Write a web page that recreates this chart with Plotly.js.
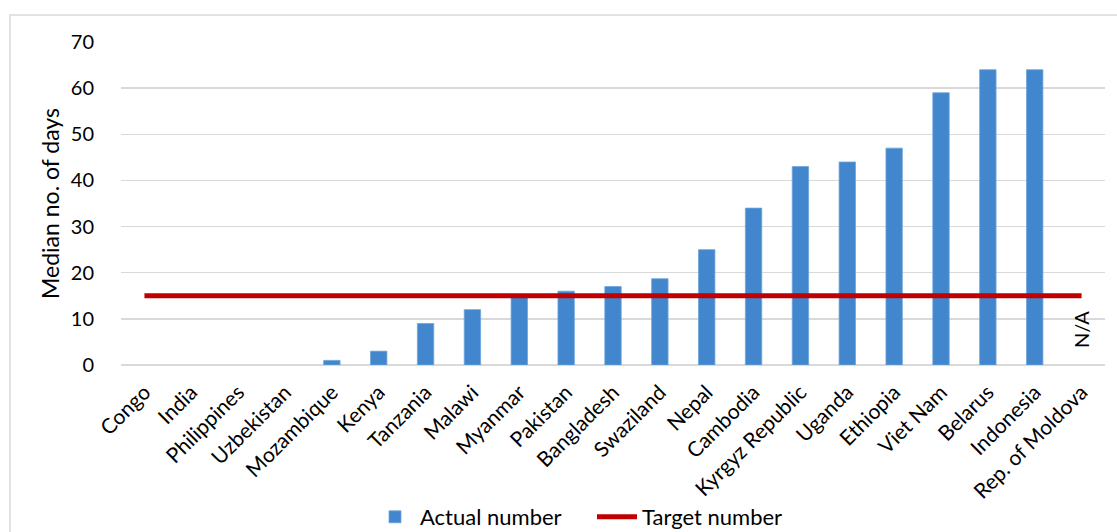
<!DOCTYPE html>
<html>
<head>
<meta charset="utf-8">
<script src="https://cdn.plot.ly/plotly-3.0.1.min.js"></script>
<style>html,body{margin:0;padding:0;background:#fff;}#chart{width:1117px;height:532px;}</style>
</head>
<body>
<div id="chart"></div>
<script>
const countries = ["Congo","India","Philippines","Uzbekistan","Mozambique","Kenya","Tanzania","Malawi","Myanmar","Pakistan","Bangladesh","Swaziland","Nepal","Cambodia","Kyrgyz Republic","Uganda","Ethiopia","Viet Nam","Belarus","Indonesia","Rep. of Moldova"];
const actualNumber = [null,null,null,null,1,3,9,12,15,16,17,18.7,25,34,43,44,47,59,64,64,null];
const targetNumber = [15,15,15,15,15,15,15,15,15,15,15,15,15,15,15,15,15,15,15,15,15];
const yTicks = [0,10,20,30,40,50,60,70];
const naLabel = {country: "Rep. of Moldova", text: "N/A", y: 7.7};

const W = 1117, H = 532;
const mL = 121, mR = 12, mT = 42, mB = 166.5;
const pw = W - mL - mR, ph = H - mT - mB;
const px = v => (v - mL) / pw;
const py = v => (H - mB - v) / ph;

const font = "Lato, 'Open Sans', sans-serif";

const traces = [
  {type: "bar", name: "Actual number", x: countries, y: actualNumber,
   marker: {color: "#4286cd", line: {color: "#6fa4dc", width: 0.8}}},
  {type: "scatter", mode: "lines", name: "Target number", x: countries, y: targetNumber,
   line: {color: "#c00000", width: 5, shape: "linear"}}
];

const layout = {
  width: W, height: H,
  margin: {l: mL, r: mR, t: mT, b: mB, pad: 0, autoexpand: false},
  paper_bgcolor: "#ffffff", plot_bgcolor: "#ffffff",
  font: {family: font, size: 20, color: "#000"},
  bargap: 0.65,
  showlegend: true,
  legend: {orientation: "h", xref: "container", yref: "container", x: 370 / W, xanchor: "left",
           y: 1 - 517 / H, yanchor: "middle", tracegroupgap: 0, itemwidth: 40,
           entrywidth: 167, entrywidthmode: "pixels",
           font: {family: font, size: 22, color: "#000"}, traceorder: "normal"},
  xaxis: {type: "category", tickangle: -45, showgrid: false, zeroline: false, showline: false,
          ticks: "", ticklabelstandoff: 10, automargin: false,
          tickfont: {family: font, size: 21, color: "#000"}, fixedrange: true},
  yaxis: {range: [0, 70], tickvals: yTicks, ticktext: yTicks.map(String), showgrid: true,
          automargin: false,
          gridcolor: "#d9d9d9", gridwidth: 1.5, zeroline: true, zerolinecolor: "#d9d9d9", zerolinewidth: 1.5,
          showline: false, ticks: "outside", ticklen: 22, tickcolor: "rgba(0,0,0,0)",
          tickfont: {family: font, size: 20, color: "#000"},
          title: {text: "Median no. of days", font: {family: font, size: 23, color: "#000"}, standoff: 4}},
  annotations: [
    {x: naLabel.country, y: naLabel.y, xref: "x", yref: "y", text: naLabel.text, textangle: -90,
     showarrow: false, font: {family: font, size: 20, color: "#000"}}
  ],
  shapes: [
    {type: "rect", xref: "paper", yref: "paper", x0: px(10), x1: px(1130), y0: py(545), y1: py(15),
     line: {color: "#d9d9d9", width: 1.5}, fillcolor: "rgba(0,0,0,0)", layer: "below"}
  ]
};

Plotly.newPlot("chart", traces, layout, {displayModeBar: false, staticPlot: true});
</script>
</body>
</html>
